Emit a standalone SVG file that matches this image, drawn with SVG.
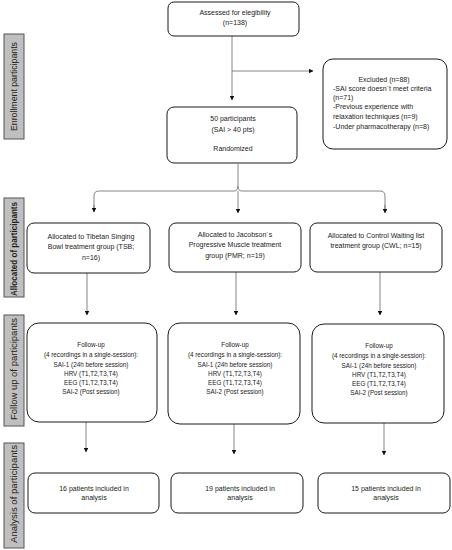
<svg xmlns="http://www.w3.org/2000/svg" width="452" height="550" viewBox="0 0 452 550">
<style>
.box{fill:#fff;stroke:#1a1a1a;stroke-width:1}
.side{fill:#bfbfbf;stroke:#555;stroke-width:1}
.t{font-family:"Liberation Sans",Arial,sans-serif;font-size:7px;fill:#222;text-anchor:middle}
.tl{text-anchor:start}
.ts{font-size:6.3px}
.st{font-family:"Liberation Sans",Arial,sans-serif;font-size:8.8px;fill:#222;text-anchor:middle}
.c{fill:none;stroke:#666;stroke-width:0.8}
</style>
<defs>
<marker id="ah" viewBox="0 0 6 6" refX="5.5" refY="3" markerWidth="4.5" markerHeight="4.5" orient="auto" markerUnits="userSpaceOnUse">
<path d="M0,0 L6,3 L0,6 Z" fill="#111"/>
</marker>
</defs>

<g id="sidebars">
<g id="side-enroll"><rect class="side" x="4" y="34" width="20" height="105"/><text class="st" transform="translate(17,86.5) rotate(-90)" textLength="89" lengthAdjust="spacingAndGlyphs">Enrollment participants</text></g>
<g id="side-alloc"><rect class="side" x="4" y="198" width="20" height="99"/><text class="st" transform="translate(17,249) rotate(-90)" textLength="94" lengthAdjust="spacingAndGlyphs" font-weight="bold">Allocated of participants</text></g>
<g id="side-follow"><rect class="side" x="4" y="315" width="20" height="111"/><text class="st" transform="translate(17,369) rotate(-90)" textLength="102" lengthAdjust="spacingAndGlyphs">Follow up of participants</text></g>
<g id="side-analysis"><rect class="side" x="4" y="443" width="20" height="105"/><text class="st" transform="translate(17,494) rotate(-90)" textLength="98" lengthAdjust="spacingAndGlyphs">Analysis of participants</text></g>
</g>

<g id="connectors">
<path class="c" d="M232,36 V100" marker-end="url(#ah)"/>
<path class="c" d="M232,71 H313" marker-end="url(#ah)"/>
<path class="c" d="M238,164 V186"/>
<path class="c" d="M94,212 V196 Q94,191 99,191 H234 Q238,191 238,186 Q238,191 242,191 H380 Q385,191 385,196 V212" />
<path class="c" d="M94,205 V212" marker-end="url(#ah)"/>
<path class="c" d="M385,205 V213" marker-end="url(#ah)"/>
<path class="c" d="M238,191 V213" marker-end="url(#ah)"/>
<path class="c" d="M87,273 V315" marker-end="url(#ah)"/>
<path class="c" d="M236,272 V315" marker-end="url(#ah)"/>
<path class="c" d="M380,272 V315" marker-end="url(#ah)"/>
<path class="c" d="M86,422 V452" marker-end="url(#ah)"/>
<path class="c" d="M234,424 V454" marker-end="url(#ah)"/>
<path class="c" d="M384,423 V455" marker-end="url(#ah)"/>
</g>

<g id="n-assessed"><rect class="box" x="168" y="2" width="131" height="34" rx="6"/>
<text class="t" x="235" y="14.5">Assessed for elegibility</text>
<text class="t" x="235" y="24.5">(n=138)</text></g>

<g id="n-excluded"><rect class="box" x="323" y="59" width="124" height="90" rx="10"/>
<text class="t" x="384" y="81.5">Excluded (n=88)</text>
<text class="t tl" x="333" y="91">-SAI score doesn´t meet criteria</text>
<text class="t tl" x="333" y="100">(n=71)</text>
<text class="t tl" x="333" y="109">-Previous experience with</text>
<text class="t tl" x="333" y="118.5">relaxation techniques (n=9)</text>
<text class="t tl" x="333" y="128.5">-Under pharmacotherapy (n=8)</text></g>

<g id="n-randomized"><rect class="box" x="167" y="107" width="130" height="56" rx="7"/>
<text class="t" x="233" y="120.5">50 participants</text>
<text class="t" x="233" y="131.5">(SAI &gt; 40 pts)</text>
<text class="t" x="233" y="150.5">Randomized</text></g>

<g id="n-alloc-tsb"><rect class="box" x="27" y="223" width="123" height="50" rx="7"/>
<text class="t" x="91" y="238.5">Allocated to Tibetan Singing</text>
<text class="t" x="91" y="249">Bowl treatment group (TSB;</text>
<text class="t" x="91" y="259.5">n=16)</text></g>

<g id="n-alloc-pmr"><rect class="box" x="169" y="223" width="132" height="49" rx="7"/>
<text class="t" x="235" y="236.5">Allocated to Jacobson´s</text>
<text class="t" x="235" y="247">Progressive Muscle treatment</text>
<text class="t" x="235" y="257.5">group (PMR; n=19)</text></g>

<g id="n-alloc-cwl"><rect class="box" x="310" y="223" width="132" height="49" rx="7"/>
<text class="t" x="376" y="237.5">Allocated to Control Waiting list</text>
<text class="t" x="376" y="247.5">treatment group (CWL; n=15)</text></g>

<g id="n-follow-tsb"><rect class="box" x="27" y="323" width="130" height="99" rx="12"/>
<text class="t ts" x="91" y="347">Follow-up</text>
<text class="t ts" x="91" y="356.5">(4 recordings in a single-session):</text>
<text class="t ts" x="91" y="367">SAI-1 (24h before session)</text>
<text class="t ts" x="91" y="376">HRV (T1,T2,T3,T4)</text>
<text class="t ts" x="91" y="384.5">EEG (T1,T2,T3,T4)</text>
<text class="t ts" x="91" y="394">SAI-2 (Post session)</text></g>

<g id="n-follow-pmr"><rect class="box" x="168" y="323" width="132" height="101" rx="12"/>
<text class="t ts" x="235" y="347">Follow-up</text>
<text class="t ts" x="235" y="356.5">(4 recordings in a single-session):</text>
<text class="t ts" x="235" y="367">SAI-1 (24h before session)</text>
<text class="t ts" x="235" y="376">HRV (T1,T2,T3,T4)</text>
<text class="t ts" x="235" y="384.5">EEG (T1,T2,T3,T4)</text>
<text class="t ts" x="235" y="394">SAI-2 (Post session)</text></g>

<g id="n-follow-cwl"><rect class="box" x="312" y="324" width="132" height="99" rx="12"/>
<text class="t ts" x="379" y="348">Follow-up</text>
<text class="t ts" x="379" y="357.5">(4 recordings in a single-session):</text>
<text class="t ts" x="379" y="368">SAI-1 (24h before session)</text>
<text class="t ts" x="379" y="377">HRV (T1,T2,T3,T4)</text>
<text class="t ts" x="379" y="385.5">EEG (T1,T2,T3,T4)</text>
<text class="t ts" x="379" y="395">SAI-2 (Post session)</text></g>

<g id="n-analysis-tsb"><rect class="box" x="28" y="473" width="131" height="40" rx="7"/>
<text class="t" x="94" y="490.5">16 patients included in</text>
<text class="t" x="94" y="500">analysis</text></g>

<g id="n-analysis-pmr"><rect class="box" x="171" y="473" width="132" height="40" rx="7"/>
<text class="t" x="240" y="490.5">19 patients included in</text>
<text class="t" x="240" y="500">analysis</text></g>

<g id="n-analysis-cwl"><rect class="box" x="318" y="473" width="132" height="40" rx="7"/>
<text class="t" x="386" y="490.5">15 patients included in</text>
<text class="t" x="386" y="500">analysis</text></g>
</svg>
